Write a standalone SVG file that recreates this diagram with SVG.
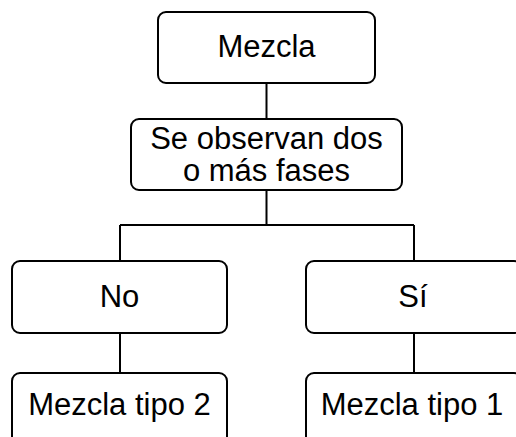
<svg xmlns="http://www.w3.org/2000/svg" width="516" height="437" viewBox="0 0 516 437">
<style>
.box{fill:#fff;stroke:#000;stroke-width:2}
.lbl{font-family:"Liberation Sans",Arial,sans-serif;font-size:31px;fill:#000;text-anchor:middle}
.con{fill:none;stroke:#000;stroke-width:2}
</style>
<rect width="516" height="437" fill="#fff"/>
<g id="connectors">
<path class="con" d="M266.5 83 V119"/>
<path class="con" d="M266.5 190 V225 M120 225 H414 M120 225 V261 M414 225 V261"/>
<path class="con" d="M120 333 V373 M414 333 V373"/>
</g>
<g id="mezcla">
<rect class="box" x="158" y="12" width="217" height="71" rx="8"/>
<text class="lbl" x="266.5" y="57">Mezcla</text>
</g>
<g id="fases">
<rect class="box" x="131" y="119" width="271" height="71" rx="8"/>
<text class="lbl" x="266.5" y="148.5">Se observan dos</text>
<text class="lbl" x="266.5" y="181">o más fases</text>
</g>
<g id="no">
<rect class="box" x="12" y="261" width="215" height="72" rx="8"/>
<text class="lbl" x="119.5" y="307">No</text>
</g>
<g id="si">
<rect class="box" x="306" y="261" width="216" height="72" rx="8"/>
<text class="lbl" x="413" y="307">Sí</text>
</g>
<g id="tipo2">
<rect class="box" x="12" y="373" width="215" height="80" rx="8"/>
<text class="lbl" x="119.5" y="415">Mezcla tipo 2</text>
</g>
<g id="tipo1">
<rect class="box" x="306" y="373" width="216" height="80" rx="8"/>
<text class="lbl" x="412" y="415">Mezcla tipo 1</text>
</g>
</svg>
